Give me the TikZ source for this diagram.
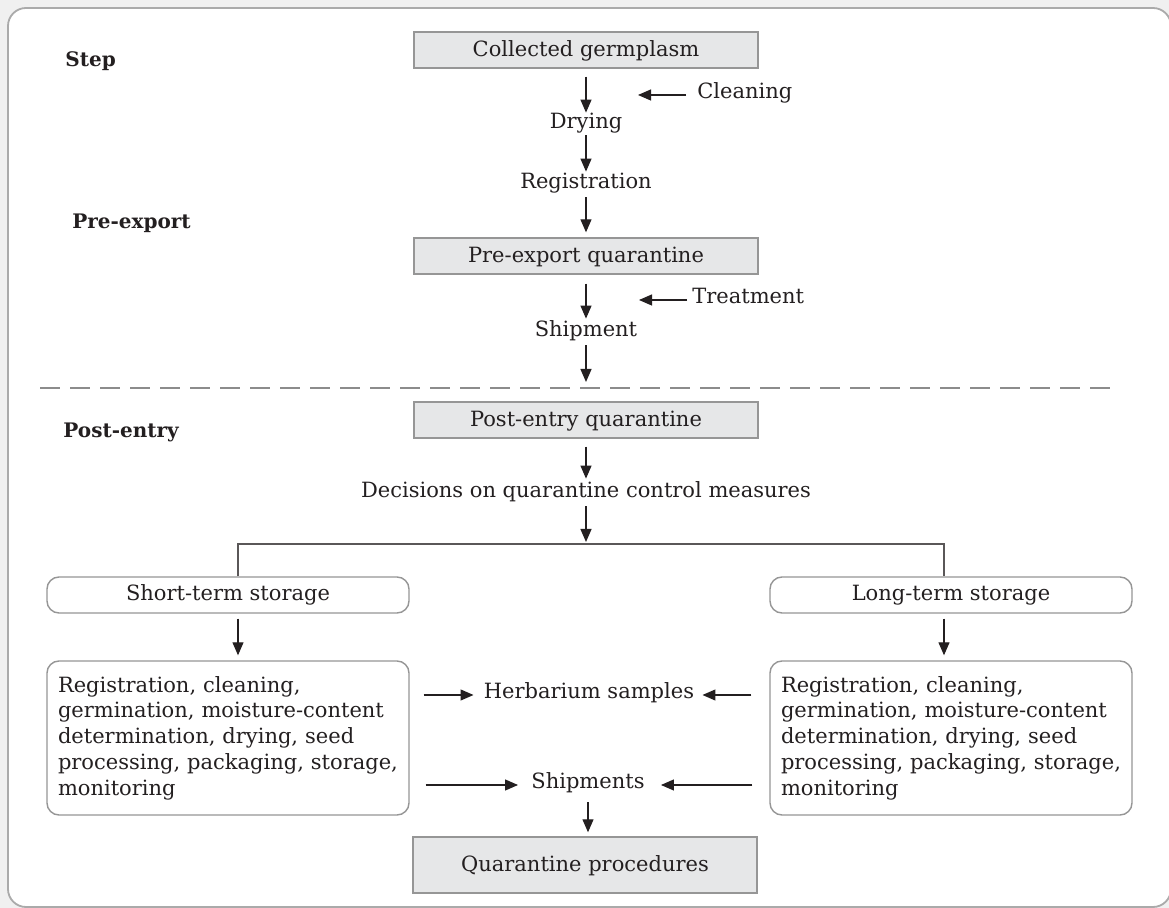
\documentclass[tikz,border=0pt]{standalone}
\usepackage{fontspec}
\setmainfont{DejaVu Serif}
\usetikzlibrary{arrows.meta,positioning}
\definecolor{ink}{RGB}{35,31,32}
\definecolor{boxfill}{RGB}{230,231,232}
\definecolor{boxline}{RGB}{150,150,150}
\definecolor{frameline}{RGB}{170,170,170}
\definecolor{pagebg}{RGB}{240,240,240}
\definecolor{cutgray}{RGB}{140,140,140}

\tikzset{
  flow/.style={-{Triangle[length=6.5pt,width=5.5pt]}, line width=0.6pt, draw=ink},
  branch/.style={line width=0.6pt, draw=ink!75},
  cutline/.style={line width=0.6pt, draw=cutgray, dash pattern=on 10pt off 5pt},
  graybox/.style={rectangle, draw=boxline, fill=boxfill, line width=0.7pt,
    minimum width=172pt, minimum height=18pt, inner sep=0pt,
    text height=7.5pt, text depth=1pt},
  roundbox/.style={rectangle, rounded corners=6pt, draw=boxline, fill=white,
    line width=0.7pt, minimum width=181pt, minimum height=18pt, inner sep=0pt},
  workbox/.style={roundbox, minimum height=77pt, text width=170pt, inner xsep=5.5pt,
    align=left, execute at begin node={\hyphenpenalty=10000}},
  lbl/.style={inner sep=0pt, text height=7pt, text depth=3pt},
  phase/.style={lbl, font=\bfseries, anchor=base west},
}

\begin{document}
\begin{tikzpicture}[x=0.5pt, y=-0.5pt, text=ink,
    font=\fontsize{10.5}{12.9}\selectfont]
  \useasboundingbox (0,0) rectangle (1169,908);
  \clip (0,0) rectangle (1169,908);
  % page and frame
  \fill[pagebg] (0,0) rectangle (1169,908);
  \draw[frameline, fill=white, line width=0.9pt, rounded corners=9pt]
    (8,8) rectangle (1171,907);

  % phase labels
  \node[phase] (step) at (65,67) {Step};
  \node[phase] (preexp) at (72,229) {Pre-export};
  \node[phase] (postent) at (63,438) {Post-entry};

  % pre-export chain
  \node[graybox] (germ) at (586,50) {Collected germplasm};
  \node[lbl, anchor=base] (drying) at (586,129) {Drying};
  \node[lbl, anchor=base] (regist) at (586,189) {Registration};
  \node[graybox] (preq) at (586,256) {Pre-export quarantine};
  \node[lbl, anchor=base] (ship) at (586,337) {Shipment};
  \node[lbl, anchor=base west] (clean) at (697,99) {Cleaning};
  \node[lbl, anchor=base west] (treat) at (692,304) {Treatment};
  \coordinate (cleanend) at (638,95);
  \coordinate (treatend) at (639,300);

  \draw[flow, shorten <=4pt, shorten >=1pt] (germ) -- (drying);
  \draw[flow, shorten >=1.5pt] (drying) -- (regist);
  \draw[flow, shorten <=1pt, shorten >=2.5pt] (regist) -- (preq);
  \draw[flow, shorten <=4.5pt, shorten >=2pt] (preq) -- (ship);
  \draw[flow] ([xshift=-5.5pt]clean.west) -- (cleanend);
  \draw[flow] ([xshift=-2.5pt]treat.west) -- (treatend);

  % border crossing
  \coordinate (cutL) at (40,388);
  \coordinate (cutR) at (1112,388);
  \draw[cutline] (cutL) -- (cutR);
  \draw[flow, shorten <=1pt, shorten >=3pt] (ship) -- (ship |- cutL);

  % post-entry
  \node[graybox] (postq) at (586,420) {Post-entry quarantine};
  \node[lbl, anchor=base] (decide) at (586,498) {Decisions on quarantine control measures};
  \draw[flow, shorten <=4pt, shorten >=2.5pt] (postq) -- (decide);

  \coordinate (splitL) at (238,544);
  \coordinate (splitR) at (944,544);
  \draw[flow, shorten <=1pt, shorten >=1pt] (decide) -- (decide |- splitL);

  \node[roundbox] (shortst) at (228,595) {Short-term storage};
  \node[roundbox] (longst) at (951,595) {Long-term storage};
  \draw[branch] (splitL |- shortst.north) -- (splitL) -- (splitR) -- (splitR |- longst.north);

  \node[workbox] (shortwork) at (228,738) {Registration, cleaning,\\ germination, moisture-content\\
    determination, drying, seed\\ processing, packaging, storage,\\ monitoring};
  \node[workbox] (longwork) at (951,738) {Registration, cleaning,\\ germination, moisture-content\\
    determination, drying, seed\\ processing, packaging, storage,\\ monitoring};
  \draw[flow, shorten <=2.5pt, shorten >=2.5pt] (shortst.south -| splitL) -- (shortwork.north -| splitL);
  \draw[flow, shorten <=2.5pt, shorten >=2.5pt] (longst.south -| splitR) -- (longwork.north -| splitR);

  % outputs
  \node[lbl, anchor=base] (herb) at (589,699) {Herbarium samples};
  \node[lbl, anchor=base] (ships) at (588,789) {Shipments};
  \node[graybox, minimum height=28pt] (procq) at (585,865) {Quarantine procedures};
  \draw[flow, shorten <=7pt, shorten >=5pt] (shortwork.east |- herb.west) -- (herb.west);
  \draw[flow, shorten <=9pt, shorten >=4pt] (longwork.west |- herb.east) -- (herb.east);
  \draw[flow, shorten <=8pt, shorten >=6.5pt] (shortwork.east |- ships.west) -- (ships.west);
  \draw[flow, shorten <=8.5pt, shorten >=8pt] (longwork.west |- ships.east) -- (ships.east);
  \draw[flow, shorten <=3.5pt, shorten >=2pt] (ships.south) -- (ships.south |- procq.north);
\end{tikzpicture}
\end{document}
